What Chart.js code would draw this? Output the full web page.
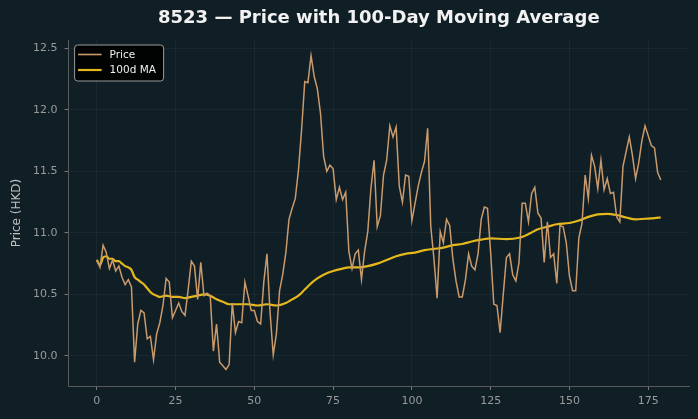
<!DOCTYPE html>
<html>
<head>
<meta charset="utf-8">
<script src="https://cdn.jsdelivr.net/npm/chart.js@4"></script>
<style>
  html, body { margin: 0; padding: 0; background: #101e25; }
  #wrap { width: 698px; height: 419px; }
</style>
</head>
<body>
<div id="wrap"><canvas id="priceChart" width="698" height="419"></canvas></div>
<script>
// 8523 price with 100-day moving average

const titleText = '8523 — Price with 100-Day Moving Average';
const priceLabel = 'Price';
const maLabel = '100d MA';

// daily closing prices, day 0..179
const prices = [
  10.78, 10.72, 10.90, 10.84, 10.71, 10.78, 10.69, 10.73, 10.64, 10.58,
  10.62, 10.56, 9.95, 10.26, 10.37, 10.35, 10.14, 10.16, 9.97, 10.18,
  10.27, 10.41, 10.63, 10.60, 10.31, 10.37, 10.43, 10.36, 10.33, 10.54,
  10.77, 10.73, 10.46, 10.76, 10.49, 10.51, 10.49, 10.04, 10.26, 9.95,
  9.92, 9.89, 9.93, 10.43, 10.19, 10.28, 10.27, 10.60, 10.49, 10.37,
  10.37, 10.28, 10.26, 10.60, 10.83, 10.35, 10.01, 10.18, 10.53, 10.66,
  10.84, 11.11, 11.20, 11.28, 11.51, 11.84, 12.23, 12.22, 12.44, 12.27,
  12.17, 11.97, 11.62, 11.50, 11.55, 11.52, 11.27, 11.37, 11.27, 11.33,
  10.85, 10.71, 10.83, 10.86, 10.62, 10.85, 11.01, 11.36, 11.59, 11.05,
  11.14, 11.47, 11.59, 11.87, 11.78, 11.86, 11.38, 11.25, 11.47, 11.46,
  11.10, 11.24, 11.38, 11.49, 11.58, 11.85, 11.05, 10.79, 10.47, 11.01,
  10.92, 11.11, 11.06, 10.79, 10.61, 10.48, 10.48, 10.62, 10.83, 10.73,
  10.70, 10.83, 11.11, 11.21, 11.20, 10.84, 10.42, 10.41, 10.19, 10.50,
  10.80, 10.83, 10.66, 10.61, 10.76, 11.24, 11.24, 11.09, 11.32, 11.37,
  11.16, 11.12, 10.76, 11.09, 10.80, 10.83, 10.59, 11.06, 11.05, 10.92,
  10.65, 10.53, 10.53, 10.96, 11.08, 11.47, 11.28, 11.63, 11.54, 11.36,
  11.59, 11.35, 11.44, 11.32, 11.33, 11.13, 11.09, 11.54, 11.66, 11.78,
  11.63, 11.44, 11.57, 11.75, 11.87, 11.79, 11.71, 11.69, 11.49, 11.43
];

// 100-day moving average, read at these days
const maDays = [
  0, 1, 2, 3, 4, 5, 6, 7, 8, 9, 10, 11, 12, 13, 14, 15, 16, 17, 18, 19,
  20, 22, 24, 26, 28, 30, 32, 34, 36, 38, 40, 42, 45, 48, 51, 54, 57, 60,
  62, 64, 66, 68, 70, 72, 75, 78, 80, 83, 86, 89, 92, 95, 98, 101, 104,
  107, 110, 113, 116, 119, 122, 125, 130, 134, 137, 140, 143, 146, 150,
  153, 156, 159, 162, 165, 168, 171, 174, 177, 179
];
const maValues = [
  10.78, 10.74, 10.80, 10.81, 10.79, 10.79, 10.77, 10.77, 10.75, 10.73,
  10.72, 10.70, 10.64, 10.62, 10.60, 10.58, 10.55, 10.52, 10.50, 10.49,
  10.48, 10.49, 10.48, 10.48, 10.47, 10.48, 10.49, 10.50, 10.49, 10.46,
  10.44, 10.42, 10.42, 10.42, 10.41, 10.42, 10.41, 10.43,
  10.46, 10.49, 10.54, 10.59, 10.63, 10.66, 10.69, 10.71, 10.72, 10.72,
  10.73, 10.75, 10.78, 10.81, 10.83, 10.84, 10.86,
  10.87, 10.88, 10.90, 10.91, 10.93, 10.945, 10.955, 10.95, 10.96, 10.99,
  11.03, 11.05, 11.07, 11.08,
  11.10, 11.13, 11.15, 11.155, 11.145, 11.125, 11.11, 11.115, 11.12, 11.125
];

const xTicks = [0, 25, 50, 75, 100, 125, 150, 175];
const yTicks = [10.0, 10.5, 11.0, 11.5, 12.0, 12.5];

const priceColor = 'rgb(201, 154, 108)';
const maColor = '#e5b81c';

// 凡例（プロット内の黒いボックス）
const boxLegend = {
  id: 'boxLegend',
  afterDatasetsDraw(chart) {
    const ctx = chart.ctx;
    const x = chart.chartArea.left + 6, y = chart.chartArea.top + 5;
    const w = 89, h = 36, r = 3;
    ctx.save();
    ctx.beginPath();
    ctx.roundRect(x, y, w, h, r);
    ctx.fillStyle = 'rgba(0, 0, 0, 0.9)';
    ctx.fill();
    ctx.lineWidth = 1;
    ctx.strokeStyle = '#9a9a9a';
    ctx.stroke();
    const items = [[priceLabel, priceColor, 1.6], [maLabel, maColor, 2.2]];
    items.forEach((it, i) => {
      const ly = y + 9.5 + i * 15.5;
      ctx.beginPath();
      ctx.moveTo(x + 3.5, ly);
      ctx.lineTo(x + 27, ly);
      ctx.strokeStyle = it[1];
      ctx.lineWidth = it[2];
      ctx.stroke();
      ctx.fillStyle = '#f0f0f0';
      ctx.font = '10.5px "DejaVu Sans"';
      ctx.textBaseline = 'middle';
      ctx.fillText(it[0], x + 35, ly + 0.5);
    });
    ctx.restore();
  }
};

const bgPlugin = {
  id: 'bg',
  beforeDraw(chart) {
    const ctx = chart.ctx;
    ctx.save();
    ctx.fillStyle = '#101e25';
    ctx.fillRect(0, 0, chart.width, chart.height);
    ctx.restore();
  }
};

const ctx = document.getElementById('priceChart');
new Chart(ctx, {
  type: 'line',
  data: {
    datasets: [{
      label: priceLabel,
      data: prices.map((v, i) => ({ x: i, y: v })),
      borderColor: priceColor,
      borderWidth: 1.5,
      pointRadius: 0,
      tension: 0
    }, {
      label: maLabel,
      data: maDays.map((d, i) => ({ x: d, y: maValues[i] })),
      borderColor: maColor,
      borderWidth: 2.2,
      pointRadius: 0,
      cubicInterpolationMode: 'monotone'
    }]
  },
  options: {
    responsive: false,
    animation: false,
    layout: { padding: { left: 0, right: 9, top: 0, bottom: 0 } },
    plugins: {
      legend: { display: false },
      tooltip: { enabled: false },
      title: {
        display: true,
        fullSize: false,
        text: titleText,
        color: '#f2f2f2',
        font: { family: 'DejaVu Sans', size: 18, weight: 'bold', lineHeight: 1.2 },
        padding: { top: 7.5, bottom: 10.9 }
      }
    },
    scales: {
      x: {
        type: 'linear',
        min: -8.95,
        max: 187.95,
        afterBuildTicks: (scale) => { scale.ticks = xTicks.map(v => ({ value: v })); },
        afterFit: (scale) => { scale.height = 33; },
        grid: { color: 'rgba(255,255,255,0.045)', tickColor: '#7a7a7a', tickLength: 4 },
        border: { color: '#5a5a5a', width: 1 },
        ticks: { color: '#9a9a9a', font: { family: 'DejaVu Sans', size: 11 }, padding: 5 }
      },
      y: {
        min: 9.756,
        max: 12.567,
        afterBuildTicks: (scale) => { scale.ticks = yTicks.map(v => ({ value: v })); },
        afterFit: (scale) => { scale.width = 68.6; },
        grid: { color: 'rgba(255,255,255,0.045)', tickColor: '#7a7a7a', tickLength: 4 },
        border: { color: '#5a5a5a', width: 1 },
        ticks: {
          color: '#9a9a9a',
          font: { family: 'DejaVu Sans', size: 11 },
          padding: 7,
          callback: (v) => v.toFixed(1)
        },
        title: {
          display: true,
          text: 'Price (HKD)',
          color: '#c0c0c0',
          font: { family: 'DejaVu Sans', size: 12 },
          padding: { top: 10, bottom: 0 }
        }
      }
    }
  },
  plugins: [bgPlugin, boxLegend]
});
</script>
</body>
</html>
